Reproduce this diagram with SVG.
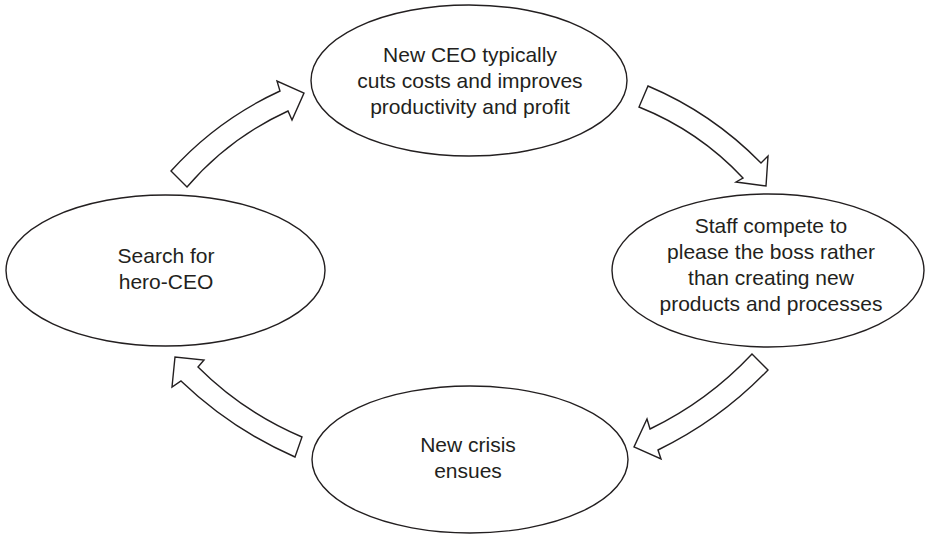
<svg xmlns="http://www.w3.org/2000/svg" width="926" height="534" viewBox="0 0 926 534">
<style>
.n{fill:#fff;stroke:#231f20;stroke-width:1.4}
.a{fill:#fff;stroke:#231f20;stroke-width:1.4;stroke-linejoin:miter}
text{font-family:"Liberation Sans",Arial,sans-serif;font-size:21px;fill:#231f20;text-anchor:middle}
</style>
<rect width="926" height="534" fill="#fff"/>
<g id="n1"><ellipse class="n" cx="469" cy="80.5" rx="158" ry="75.5"/>
<text x="470" y="62">New CEO typically</text><text x="470" y="88">cuts costs and improves</text><text x="470" y="114">productivity and profit</text></g>
<g id="n2"><ellipse class="n" cx="768" cy="270.5" rx="156" ry="76.5"/>
<text x="771" y="233">Staff compete to</text><text x="771" y="259">please the boss rather</text><text x="771" y="285">than creating new</text><text x="771" y="311">products and processes</text></g>
<g id="n3"><ellipse class="n" cx="470" cy="459.5" rx="158" ry="73.5"/>
<text x="468" y="452">New crisis</text><text x="468" y="478">ensues</text></g>
<g id="n4"><ellipse class="n" cx="165.5" cy="270.5" rx="159.5" ry="75.5"/>
<text x="166" y="263">Search for</text><text x="166" y="289">hero-CEO</text></g>
<g id="connectors">
<path class="a" d="M171,171 Q217,120 280,91 L277,81 L304,93 L292,120 L288,111 Q229,138 187,187 Z"/>
<path class="a" d="M648,86 Q712,113 761,163 L768,156 L766,186 L736,182 L743,178 Q699,131 639,107 Z"/>
<path class="a" d="M752,354 Q708,401 650,429 L647,419 L634,447 L661,459 L658,450 Q720,420 768,370 Z"/>
<path class="a" d="M302,437 Q243,412 198,367 L204,360 L175,357 L172,387 L181,381 Q231,429 295,457 Z"/>
</g>
</svg>
